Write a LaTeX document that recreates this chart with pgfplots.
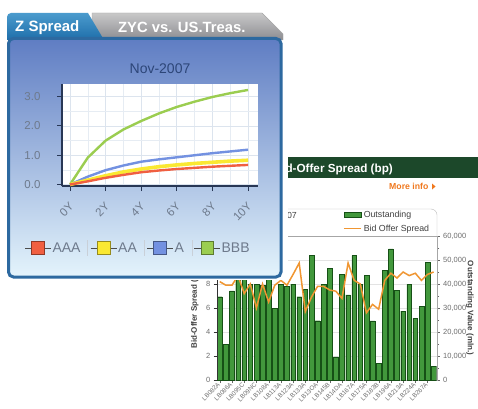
\documentclass[border=0pt]{standalone}
\usepackage{pgfplots}
\pgfplotsset{compat=1.18}
\usepackage{fontspec}
\setmainfont{Liberation Sans}
\definecolor{hdr}{RGB}{28,72,42}
\definecolor{moreinfo}{RGB}{240,120,30}
\definecolor{barfill}{RGB}{66,152,60}
\definecolor{bardk}{RGB}{22,80,22}
\definecolor{orng}{RGB}{240,150,50}
\definecolor{tlab}{RGB}{110,110,110}
\definecolor{ptop}{RGB}{95,125,195}
\definecolor{pmid}{RGB}{170,198,235}
\definecolor{pbot}{RGB}{228,244,252}
\definecolor{pborder}{RGB}{45,105,160}
\definecolor{tabAt}{RGB}{75,155,205}
\definecolor{tabAb}{RGB}{30,110,170}
\definecolor{tabBt}{RGB}{200,200,200}
\definecolor{tabBb}{RGB}{140,140,145}
\definecolor{zlab}{RGB}{110,122,140}
\definecolor{ztitle}{RGB}{45,70,120}
\definecolor{zgrid}{RGB}{220,228,238}
\definecolor{zaxis}{RGB}{40,55,85}
\definecolor{cAAA}{RGB}{240,95,65}
\definecolor{cAA}{RGB}{250,232,50}
\definecolor{cA}{RGB}{115,145,225}
\definecolor{cBBB}{RGB}{155,205,80}
\newcommand\pp[2]{(#1,{408-#2})}
\begin{document}
\begin{tikzpicture}[x=1pt,y=1pt]
\useasboundingbox (0,0) rectangle (478,408);
\fill[white] (0,0) rectangle (478,408);
\clip (0,0) rectangle (478,408);
% ---- back widget ----
\fill[hdr] \pp{288}{157} rectangle \pp{478}{178};
\node[anchor=base east, text=white, font=\bfseries\fontsize{11.7}{12}\selectfont, inner sep=0] at \pp{393}{172} {Bid-Offer Spread (bp)};
\node[anchor=base west, text=moreinfo, font=\bfseries\fontsize{8.7}{9}\selectfont, inner sep=0] at \pp{389}{189.5} {More info};
\fill[moreinfo] \pp{432}{183.5} -- \pp{435.5}{186.5} -- \pp{432}{189.5} -- cycle;
\draw[gray!55] \pp{200}{209} -- \pp{431}{209} arc[start angle=90,end angle=0,radius=6] -- \pp{437}{236};
\node[anchor=base east, font=\fontsize{8.8}{9}\selectfont, text=darkgray, inner sep=0] at \pp{297}{218} {Nov-2007};

\begin{axis}[at={(216.7pt,28pt)}, anchor=south west, scale only axis, width=220pt, height=144pt,
  xmin=0.5, xmax=36.5, ymin=0, ymax=60000,
  axis line style={draw=gray!70},
  xtick={1,3,...,35},
  xticklabels={LB082A,LB086A,LB095C,LB09NC,LB108A,LB113A,LB123A,LB133A,LB13OA,LB145B,LB14DA,LB167A,LB175A,LB183B,LB196A,LB213A,LB224A,LB267A},
  xticklabel style={rotate=45, anchor=east, font=\fontsize{6.3}{7}\selectfont, text=tlab, inner sep=1pt},
  ytick={0,10000,...,60000}, minor ytick={5000,15000,...,55000},
  ytick pos=right, xtick pos=bottom,
  tick align=outside, major tick length=3pt, minor tick length=2.5pt,
  tick style={draw=gray!80!black},
  ymajorgrids, major grid style={draw=gray!22},
  scaled y ticks=false,
  yticklabel style={font=\fontsize{7.5}{8}\selectfont, text=tlab, /pgf/number format/.cd, fixed, 1000 sep={,}, assume math mode=true},
  ylabel={Outstanding Value (mln.)},
  ylabel style={at={(axis description cs:1.151,0.5)}, anchor=center, rotate=180, font=\bfseries\fontsize{8}{9}\selectfont, text=darkgray},
]
\addplot[ybar, bar width=4.7pt, draw=bardk, fill=barfill] coordinates {
(1,34700)(2,14800)(3,37100)(4,45000)(5,43500)(6,39900)(7,39900)(8,39300)(9,45000)(10,29900)(11,39900)(12,39000)(13,39900)(14,34700)(15,37800)(16,51800)(17,24700)(18,39900)(19,46500)(20,9600)(21,44000)(22,35500)(23,51800)(24,39900)(25,43700)(26,24600)(27,6900)(28,45800)(29,54600)(30,37500)(31,28700)(32,39900)(33,25700)(34,30600)(35,48900)(36,5600)};
\end{axis}

\begin{axis}[at={(216.7pt,28pt)}, anchor=south west, scale only axis, width=220pt, height=144pt,
  xmin=0.5, xmax=36.5, ymin=0, ymax=12,
  axis x line=none, axis y line*=left,
  axis line style={draw=gray!40!black},
  ytick={0,2,...,12}, tick align=outside, major tick length=3pt,
  tick style={draw=gray!40!black},
  yticklabel style={font=\fontsize{7.5}{8}\selectfont, text=tlab, /pgf/number format/assume math mode=true},
  ylabel={Bid-Offer Spread (bp)},
  ylabel style={at={(axis description cs:-0.099,0.5)}, anchor=center, font=\bfseries\fontsize{8}{9}\selectfont, text=darkgray},
  legend style={at={(axis description cs:0.574,1.19)}, anchor=north west, draw=none, fill=none,
    font=\fontsize{8.8}{9}\selectfont, text=darkgray, inner sep=0pt, row sep=2pt},
  legend cell align=left,
]
\addlegendimage{area legend, draw=bardk, fill=barfill}
\addlegendentry{Outstanding}
\addplot[orng, line width=1.5pt] coordinates {
(1,8.2)(2,7.9)(3,7.9)(4,8.7)(5,7.2)(6,8.0)(7,6.0)(8,8.0)(9,6.5)(10,7.9)(11,8.3)(12,7.9)(13,8.8)(14,9.75)(15,5.7)(16,6.9)(17,7.8)(18,7.8)(19,7.5)(20,7.4)(21,6.8)(22,9.75)(23,8.3)(24,8.0)(25,5.6)(26,6.3)(27,5.9)(28,8.3)(29,8.9)(30,8.5)(31,9.0)(32,8.7)(33,8.9)(34,8.3)(35,8.8)(36,9.0)};
\addlegendentry{Bid Offer Spread}
\end{axis}

% ---- front panel ----
\fill[white] \pp{3}{7} rectangle \pp{288}{280};
\shade[top color=tabBt, bottom color=tabBb, draw=gray!70] \pp{92}{40} -- \pp{92}{13} -- \pp{262}{13} -- \pp{283}{34} -- \pp{283}{40} -- cycle;
\node[anchor=base west, text=white, font=\bfseries\fontsize{14.8}{15}\selectfont, inner sep=0] at \pp{118}{32.3} {ZYC vs. US.Treas.};
\shade[top color=tabAt, bottom color=tabAb] \pp{7}{40} -- \pp{7}{17} arc[start angle=180,end angle=90,radius=4] -- \pp{88}{13} -- \pp{104}{40} -- cycle;
\node[anchor=base west, text=white, font=\bfseries\fontsize{15}{15}\selectfont, inner sep=0] at \pp{15}{31.7} {Z Spread};
\shade[top color=ptop, middle color=pmid, bottom color=pbot, rounded corners=5pt] \pp{8.5}{38.5} -- \pp{281}{38.5} -- \pp{281}{277} -- \pp{8.5}{277} -- cycle;
\draw[pborder, line width=3pt, rounded corners=5pt] \pp{8.5}{38.5} -- \pp{281}{38.5} -- \pp{281}{277} -- \pp{8.5}{277} -- cycle;

\begin{axis}[at={(62pt,222pt)}, anchor=south west, scale only axis, width=196pt, height=102.5pt,
  xmin=-0.45, xmax=10.56, ymin=-0.05, ymax=3.45,
  axis x line*=bottom, axis y line*=left,
  axis line style={draw=zaxis, line width=1.2pt},
  axis background/.style={fill=white},
  xtick={0,2,...,10}, xticklabels={0Y,2Y,4Y,6Y,8Y,10Y}, minor xtick={1,3,5,7,9},
  ytick={0,1,2,3}, minor ytick={0.5,1.5,2.5},
  grid=both, major grid style={draw=zgrid, line width=0.7pt}, minor grid style={draw=zgrid!70},
  tick align=outside, major tick length=5pt, minor tick length=0pt,
  tick style={draw=zaxis, line width=1pt},
  yticklabel style={font=\fontsize{11.5}{12}\selectfont, text=zlab, xshift=-13pt, /pgf/number format/.cd, fixed, fixed zerofill, precision=1, assume math mode=true},
  xticklabel style={font=\fontsize{11.5}{12}\selectfont, text=zlab, yshift=-11pt, xshift=4pt, rotate=45, anchor=east},
  title={Nov-2007}, title style={font=\fontsize{14}{14}\selectfont, text=ztitle},
  legend columns=4,
  legend image code/.code={\draw[mark repeat=2,mark phase=2,#1] plot coordinates {(0pt,0pt) (13pt,0pt) (26pt,0pt)};},
  legend style={at={(axis description cs:-0.1923,-0.605)}, anchor=west, draw=none, fill=none,
    font=\fontsize{14}{14}\selectfont, text=zlab, inner sep=0pt, nodes={inner sep=1pt},
    /tikz/every even column/.append style={column sep=8.7pt}},
]
\addplot[cBBB, line width=2.4pt, forget plot] coordinates {(0,0)(1,0.92)(2,1.5)(3,1.88)(4,2.17)(5,2.43)(6,2.65)(7,2.83)(8,2.99)(9,3.12)(10,3.23)};
\addplot[cA, line width=2.4pt, forget plot] coordinates {(0,0)(1,0.27)(2,0.49)(3,0.65)(4,0.78)(5,0.86)(6,0.93)(7,1.0)(8,1.07)(9,1.13)(10,1.19)};
\addplot[cAA, line width=3.6pt, forget plot] coordinates {(0,0)(1,0.15)(2,0.3)(3,0.43)(4,0.53)(5,0.61)(6,0.67)(7,0.72)(8,0.76)(9,0.8)(10,0.83)};
\addplot[cAAA, line width=2.4pt, forget plot] coordinates {(0,0)(1,0.11)(2,0.23)(3,0.33)(4,0.42)(5,0.48)(6,0.53)(7,0.57)(8,0.61)(9,0.64)(10,0.67)};
\addlegendimage{draw=gray!60!black, line width=1pt, mark=square*, mark size=6.3pt, mark options={fill=cAAA, draw=cAAA!60!black, line width=0.6pt}}
\addlegendentry{AAA}
\addlegendimage{draw=gray!60!black, line width=1pt, mark=square*, mark size=6.3pt, mark options={fill=cAA, draw=cAA!60!black, line width=0.6pt}}
\addlegendentry{AA}
\addlegendimage{draw=gray!60!black, line width=1pt, mark=square*, mark size=6.3pt, mark options={fill=cA, draw=cA!60!black, line width=0.6pt}}
\addlegendentry{A}
\addlegendimage{draw=gray!60!black, line width=1pt, mark=square*, mark size=6.3pt, mark options={fill=cBBB, draw=cBBB!60!black, line width=0.6pt}}
\addlegendentry{BBB}
\end{axis}
\foreach \sx in {87,144,192} {\draw[zgrid!80!gray] \pp{\sx}{240} -- \pp{\sx}{256};}
\end{tikzpicture}
\end{document}
